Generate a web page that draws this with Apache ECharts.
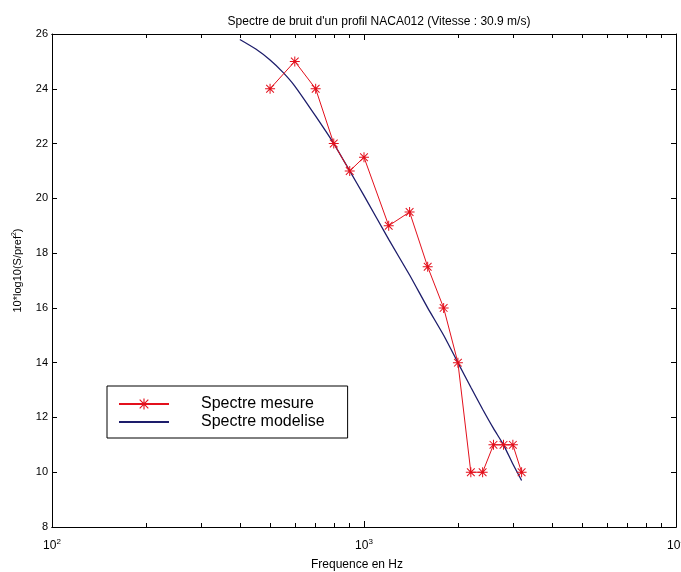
<!DOCTYPE html>
<html>
<head>
<meta charset="utf-8">
<title>Spectre de bruit</title>
<script src="https://cdn.jsdelivr.net/npm/echarts@6/dist/echarts.min.js"></script>
<style>
html, body { margin: 0; padding: 0; background: #fff; }
#spectre { width: 681px; height: 572px; }
</style>
</head>
<body>
<div id="spectre"></div>
<script>
//spectre mesure (Hz, dB)
var freqMesure = [500, 600, 700, 800, 900, 1000, 1200, 1400, 1600, 1800, 2000, 2200, 2400, 2600, 2800, 3000, 3200];
var valMesure = [24, 25, 24, 22, 21, 21.5, 19, 19.5, 17.5, 16, 14, 10, 10, 11, 11, 11, 10];
//spectre modelise
var freqModele = [400, 450, 500, 550, 600, 700, 800, 900, 1000, 1200, 1400, 1600, 1800, 2000, 2200, 2400, 2600, 2800, 3000, 3200];
var valModele = [25.8, 25.45, 25.05, 24.6, 24.1, 23.0, 22.0, 21.0, 20.1, 18.5, 17.2, 16.0, 15.0, 14.0, 13.1, 12.3, 11.6, 11.0, 10.3, 9.7];
//graduations secondaires de l'axe log
var minorTicks = [100, 200, 300, 400, 500, 600, 700, 800, 900, 1000, 2000, 3000, 4000, 5000, 6000, 7000, 8000, 9000, 10000];

function zip(xs, ys) {
	var out = [];
	for (var i = 0; i < xs.length; i++) {
		out.push([xs[i], ys[i]]);
	}
	return out;
}

//etoile type matlab '*'
var starPath = 'path://M4.5 0L5.5 0L5.5 10L4.5 10Z M0 4.5L10 4.5L10 5.5L0 5.5Z M0.8 1.5L1.5 0.8L9.2 8.5L8.5 9.2Z M8.5 0.8L9.2 1.5L1.5 9.2L0.8 8.5Z';

var font = 'Liberation Sans';

function xAxisCfg(pos, labels, ticks, len) {
	var axis = {
		type: 'log',
		logBase: 10,
		min: 100,
		max: 10000,
		position: pos,
		axisLine: { show: true, onZero: false, lineStyle: { color: '#000', width: 1 } },
		axisTick: { show: true, inside: true, length: len, lineStyle: { color: '#000' } },
		splitLine: { show: false },
		minorTick: { show: false },
		axisLabel: { show: false }
	};
	if (ticks) {
		axis.axisTick.customValues = ticks;
	}
	if (labels) {
		axis.axisLabel = {
			show: true,
			margin: 11,
			color: '#000',
			fontFamily: font,
			fontSize: 12,
			lineHeight: 16,
			formatter: function(v) {
				return '10{sup|' + Math.round(Math.log(v) / Math.LN10) + '}';
			},
			rich: {
				sup: { fontSize: 8, lineHeight: 8, verticalAlign: 'top', fontFamily: font, color: '#000' }
			}
		};
		axis.name = 'Frequence en Hz';
		axis.nameLocation = 'middle';
		axis.nameGap = 32;
		axis.nameTextStyle = { color: '#000', fontFamily: font, fontSize: 12, padding: [0, 14, 0, 0] };
	}
	return axis;
}

function yAxisCfg(pos, labels) {
	var axis = {
		type: 'value',
		min: 8,
		max: 26,
		interval: 2,
		position: pos,
		axisLine: { show: true, onZero: false, lineStyle: { color: '#000', width: 1 } },
		axisTick: { show: true, inside: true, length: 5, lineStyle: { color: '#000' } },
		splitLine: { show: false },
		axisLabel: { show: false }
	};
	if (labels) {
		axis.axisLabel = { show: true, margin: 4, color: '#000', fontFamily: font, fontSize: 11 };
		axis.name = '10*log10(S/pref{sup|2})';
		axis.nameLocation = 'middle';
		axis.nameGap = 22;
		axis.nameTextStyle = {
			color: '#000',
			fontFamily: font,
			fontSize: 11,
			lineHeight: 14,
			padding: [0, 0, 0, 20],
			rich: {
				sup: { fontSize: 7, lineHeight: 7, verticalAlign: 'top', fontFamily: font, color: '#000' }
			}
		};
	}
	return axis;
}

var spectreEchart = echarts.init(document.getElementById('spectre'));
var spectreOption = {
	backgroundColor: '#fff',
	animation: false,
	title: {
		text: "Spectre de bruit d'un profil NACA012 (Vitesse : 30.9 m/s)",
		left: 374,
		top: 11,
		textAlign: 'center',
		textStyle: { color: '#000', fontFamily: font, fontSize: 12, fontWeight: 'normal' }
	},
	legend: {
		orient: 'vertical',
		left: 107,
		top: 386,
		align: 'left',
		padding: [10, 23, 8, 11],
		itemGap: 2,
		itemWidth: 50,
		itemHeight: 14,
		borderColor: '#000',
		borderWidth: 1,
		backgroundColor: '#fff',
		textStyle: { color: '#000', fontFamily: font, fontSize: 16, lineHeight: 16, padding: [0, 0, 0, 27] },
		data: [{
			name: 'Spectre mesure'
		}, {
			name: 'Spectre modelise',
			//pas de symbole pour la courbe modelisee
			itemStyle: { opacity: 0 }
		}]
	},
	grid: {
		left: 52,
		right: 5,
		top: 34,
		bottom: 45,
		containLabel: false,
		outerBoundsMode: 'none'
	},
	xAxis: [
		xAxisCfg('bottom', true, null, 6),
		xAxisCfg('bottom', false, minorTicks, 4),
		xAxisCfg('top', false, null, 6),
		xAxisCfg('top', false, minorTicks, 4)
	],
	yAxis: [
		yAxisCfg('left', true),
		yAxisCfg('right', false)
	],
	series: [{
		name: 'Spectre mesure',
		type: 'line',
		xAxisIndex: 0,
		yAxisIndex: 0,
		symbol: starPath,
		symbolSize: 10,
		showAllSymbol: true,
		itemStyle: { color: '#e3101c' },
		lineStyle: { color: '#e3101c', width: 1 },
		data: zip(freqMesure, valMesure),
		z: 3
	}, {
		name: 'Spectre modelise',
		type: 'line',
		xAxisIndex: 0,
		yAxisIndex: 0,
		symbol: 'none',
		smooth: 0.2,
		itemStyle: { color: '#1d1d6b' },
		lineStyle: { color: '#1d1d6b', width: 1.3 },
		data: zip(freqModele, valModele),
		z: 2
	}]
};
spectreEchart.setOption(spectreOption);
</script>
</body>
</html>
